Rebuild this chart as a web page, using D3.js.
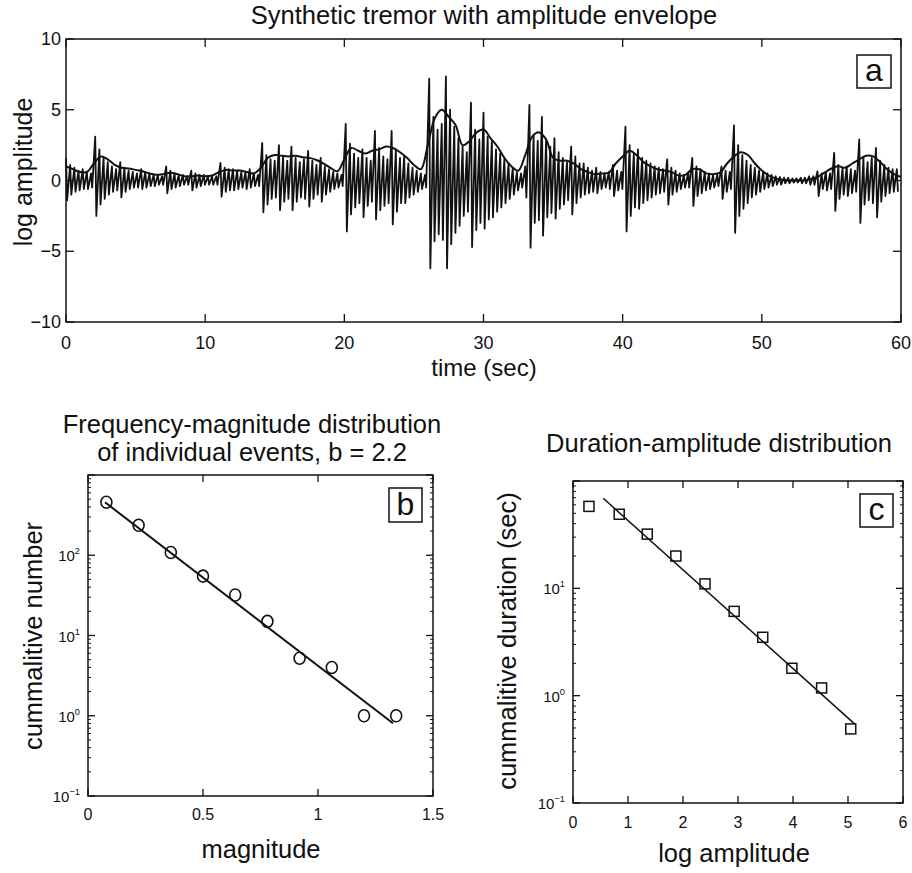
<!DOCTYPE html>
<html><head><meta charset="utf-8">
<script src="https://cdn.jsdelivr.net/npm/d3@7"></script>
<style>
body{margin:0;background:#fff}
text{font-family:"Liberation Sans",Arial,Helvetica,sans-serif;fill:#111}
</style>
</head><body>
<svg id="chart" width="912" height="873"></svg>
<script>
// ---------------- DATA ----------------
const waveStep = 0.3;
const waveUp = [
 1.6,1.1,0.9,0.7,0.8,0.6,0.5,3.1,2.2,1.6,
 1.3,1.0,0.8,1.3,0.9,0.7,0.6,0.5,0.8,0.6,
 0.5,0.4,0.4,0.3,1.0,0.7,0.5,0.4,0.4,0.3,
 0.7,0.5,0.4,0.4,0.3,0.3,0.3,1.25,0.9,0.8,
 0.8,0.7,0.6,0.6,0.8,0.5,0.4,2.65,1.8,1.5,
 1.4,2.5,1.7,1.4,2.4,1.6,1.3,1.5,2.1,1.4,
 1.1,1.6,1.0,0.8,0.6,0.5,0.4,4.0,2.6,1.9,
 1.6,2.2,1.6,1.4,3.5,2.3,1.7,1.5,3.5,2.2,
 1.6,1.7,1.2,0.9,0.7,0.5,0.4,7.2,4.5,3.6,
 4.0,7.35,5.0,3.8,3.0,2.4,2.0,5.5,3.6,2.9,
 4.8,3.1,2.8,2.2,1.9,1.5,1.2,0.9,0.6,0.5,
 1.0,5.35,3.2,2.8,4.5,2.9,2.4,3.0,2.0,1.6,
 1.3,2.4,1.7,1.2,1.2,0.9,0.7,0.9,0.6,0.5,
 0.6,1.1,0.7,0.6,3.8,2.5,1.9,2.2,1.6,1.4,
 1.2,1.0,0.9,0.8,1.5,0.9,0.7,0.5,0.4,0.5,
 1.6,1.0,0.8,0.6,0.5,0.4,0.4,1.0,0.7,0.6,
 3.9,2.5,1.8,1.4,1.1,0.9,0.7,0.6,0.5,0.4,
 0.3,0.25,0.2,0.2,0.15,0.15,0.2,0.2,0.3,0.3,
 0.65,0.5,0.6,0.5,1.95,1.1,0.9,1.0,0.8,0.7,
 2.9,1.6,1.3,1.6,2.3,1.4,1.1,0.9,0.8,0.8
];
const waveDown = [
 -1.4,-1.0,-0.8,-0.7,-0.6,-0.6,-0.5,-2.5,-1.7,-1.3,
 -1.0,-0.8,-0.7,-1.2,-0.8,-0.6,-0.5,-0.5,-0.6,-0.5,
 -0.4,-0.4,-0.3,-0.3,-0.9,-0.6,-0.5,-0.4,-0.3,-0.3,
 -0.7,-0.5,-0.4,-0.3,-0.3,-0.3,-0.3,-1.15,-0.8,-0.7,
 -0.7,-0.6,-0.5,-0.6,-0.5,-0.4,-0.4,-2.25,-1.7,-1.3,
 -1.2,-2.1,-1.5,-1.3,-2.1,-1.5,-1.2,-1.3,-1.85,-1.3,
 -1.0,-1.5,-1.0,-0.8,-0.6,-0.5,-0.4,-3.6,-2.4,-1.9,
 -1.6,-2.6,-1.8,-1.5,-2.75,-2.1,-1.8,-1.6,-3.1,-2.2,
 -1.6,-1.6,-1.2,-1.0,-0.8,-0.6,-0.5,-6.2,-4.3,-3.8,
 -4.2,-6.2,-4.5,-3.7,-3.2,-2.5,-2.2,-4.7,-3.5,-3.0,
 -3.4,-2.75,-2.6,-2.2,-1.9,-1.6,-1.3,-1.0,-0.7,-0.5,
 -1.2,-4.75,-3.0,-2.8,-3.9,-2.6,-2.3,-2.7,-2.0,-1.7,
 -1.4,-2.4,-1.6,-1.2,-1.0,-0.9,-0.8,-0.9,-0.6,-0.5,
 -0.6,-1.1,-0.7,-0.6,-3.6,-2.5,-1.9,-2.0,-1.6,-1.4,
 -1.2,-1.0,-0.9,-0.8,-1.7,-1.0,-0.8,-0.6,-0.5,-0.5,
 -1.8,-1.1,-0.9,-0.7,-0.6,-0.5,-0.4,-1.3,-0.8,-0.6,
 -3.7,-2.5,-2.0,-1.6,-1.2,-1.0,-0.8,-0.6,-0.5,-0.4,
 -0.3,-0.3,-0.2,-0.2,-0.15,-0.15,-0.2,-0.2,-0.3,-0.3,
 -1.1,-0.6,-0.7,-0.6,-2.15,-1.3,-1.0,-1.1,-0.9,-0.8,
 -3.0,-1.7,-1.4,-1.6,-2.6,-1.5,-1.1,-0.9,-0.8,-0.8
];
// amplitude envelope sampled every 0.5 s
const envStep = 0.5;
const envelope = [
 1.0,0.8,0.6,0.6,1.2,1.7,1.5,1.1,0.9,0.85,
 0.75,0.65,0.5,0.4,0.45,0.55,0.45,0.3,0.3,0.35,
 0.3,0.35,0.6,0.75,0.7,0.7,0.6,0.5,0.9,1.6,
 1.8,1.75,1.7,1.75,1.65,1.6,1.45,1.2,0.9,0.65,
 1.5,2.3,2.1,1.9,2.1,2.2,2.4,2.3,2.0,1.6,
 1.1,0.8,2.5,4.4,5.0,4.5,3.9,2.5,2.8,3.4,
 3.6,3.0,2.4,1.6,1.0,0.7,1.8,3.1,3.4,2.9,
 1.6,1.4,1.4,1.2,0.8,0.6,0.45,0.5,0.55,1.2,
 1.7,2.1,1.8,1.3,1.0,0.8,0.7,0.6,0.35,0.4,
 0.8,0.8,0.5,0.45,0.55,1.2,1.7,2.0,1.8,1.2,
 0.7,0.35,0.15,0.05,0.0,0.0,0.0,0.1,0.25,0.55,
 0.85,1.0,0.9,1.2,1.5,1.75,1.7,1.3,0.8,0.45,
 0.25
];
const aTicksX = [0,10,20,30,40,50,60];
const aTicksY = [-10,-5,0,5,10];

// Panel b: frequency-magnitude
const magnitude = [0.08,0.22,0.36,0.50,0.64,0.78,0.92,1.06,1.20,1.34];
const cumNumber = [457,236,108,55,32,15,5.2,4.0,1.0,1.0];
const fitBMag = [0.074,1.326];
const fitBNum = [457,0.805];
const bTicksX = [0,0.5,1,1.5];
const bTickLabelsX = ["0","0.5","1","1.5"];
const bDecadeLabels = [-1,0,1,2];

// Panel c: duration-amplitude
const logAmp = [0.29,0.84,1.35,1.87,2.40,2.93,3.45,3.98,4.52,5.05];
const cumDuration = [58,49,32,20,11,6.1,3.5,1.8,1.18,0.49];
const fitCAmp = [0.55,5.13];
const fitCDur = [69,0.54];
const cTicksX = [0,1,2,3,4,5,6];
const cDecadeLabels = [-1,0,1];

// ---------------- DRAW ----------------
const svg = d3.select("#chart");
const INK = "#111";

function frame(xs, ys){
  const x0=xs.range()[0], x1=xs.range()[1], y0=ys.range()[0], y1=ys.range()[1];
  svg.append("rect").attr("x",x0).attr("y",y1).attr("width",x1-x0).attr("height",y0-y1)
    .attr("fill","none").attr("stroke",INK).attr("stroke-width",1.5);
}
function xTicksIn(xs, ys, vals, len){
  const y0=ys.range()[0], y1=ys.range()[1];
  vals.forEach(v=>{
    const x=xs(v);
    svg.append("line").attr("x1",x).attr("x2",x).attr("y1",y0).attr("y2",y0-len).attr("stroke",INK).attr("stroke-width",1.3);
    svg.append("line").attr("x1",x).attr("x2",x).attr("y1",y1).attr("y2",y1+len).attr("stroke",INK).attr("stroke-width",1.3);
  });
}
function yTicksIn(xs, ys, vals, len, w){
  const x0=xs.range()[0], x1=xs.range()[1];
  vals.forEach(v=>{
    const y=ys(v);
    svg.append("line").attr("x1",x0).attr("x2",x0+len).attr("y1",y).attr("y2",y).attr("stroke",INK).attr("stroke-width",w||1.3);
    svg.append("line").attr("x1",x1).attr("x2",x1-len).attr("y1",y).attr("y2",y).attr("stroke",INK).attr("stroke-width",w||1.3);
  });
}
function label(x,y,txt,size,anchor,rot){
  const t=svg.append("text").attr("x",x).attr("y",y).attr("font-size",size)
    .attr("text-anchor",anchor||"middle").text(txt);
  if(rot) t.attr("transform",`rotate(${rot},${x},${y})`);
  return t;
}
function boxLabel(x,y,w,h,txt,size){
  svg.append("rect").attr("x",x).attr("y",y).attr("width",w).attr("height",h)
    .attr("fill","#fff").attr("stroke",INK).attr("stroke-width",1.5);
  label(x+w/2,y+h-7,txt,size);
}
function logLabels(xs, ys, decades, size){
  const x0=xs.range()[0];
  decades.forEach(k=>{
    const t=svg.append("text").attr("x",x0-8).attr("y",ys(Math.pow(10,k))+6)
      .attr("font-size",size).attr("text-anchor","end");
    t.append("tspan").text("10");
    t.append("tspan").attr("dy",-7).attr("font-size",size*0.62).text(String(k).replace("-","\u2212"));
  });
}
function minorLog(xs, ys){
  const [lo,hi]=ys.domain();
  const vals=[];
  for(let e=Math.round(Math.log10(lo)); e<Math.round(Math.log10(hi)); e++){
    for(let m=2;m<=9;m++) vals.push(m*Math.pow(10,e));
  }
  yTicksIn(xs, ys, vals, 3, 1);
}

// ----- Panel a -----
const ax = d3.scaleLinear().domain([0,60]).range([66,901]);
const ay = d3.scaleLinear().domain([-10,10]).range([322,39]);

const wavePts = [];
waveUp.forEach((u,i)=>{
  wavePts.push([i*waveStep, u]);
  wavePts.push([i*waveStep+0.08, waveDown[i]]);
});
const line = d3.line().x(d=>ax(d[0])).y(d=>ay(d[1]));
svg.append("path").datum(wavePts).attr("d",line).attr("fill","none")
  .attr("stroke",INK).attr("stroke-width",1.8).attr("stroke-linejoin","round");
const envPts = envelope.map((v,i)=>[i*envStep, v]);
svg.append("path").datum(envPts).attr("d",line.curve(d3.curveCatmullRom)).attr("fill","none")
  .attr("stroke",INK).attr("stroke-width",2);

frame(ax, ay);
xTicksIn(ax, ay, aTicksX, 8);
yTicksIn(ax, ay, aTicksY, 8);
aTicksX.forEach(v=>label(ax(v),349,String(v),18));
aTicksY.forEach(v=>label(61,ay(v)+6,String(v).replace("-","\u2212"),18,"end"));
label(484,24,"Synthetic tremor with amplitude envelope",25.5);
label(484,376,"time (sec)",24);
label(32,172,"log amplitude",25,"middle",-90);
boxLabel(857,55,34,33,"a",32);

// ----- Panel b -----
const bx = d3.scaleLinear().domain([0,1.5]).range([88,433]);
const by = d3.scaleLog().domain([0.1,1000]).range([796,475]);
frame(bx, by);
xTicksIn(bx, by, bTicksX, 7);
yTicksIn(bx, by, [0.1,1,10,100,1000], 7);
minorLog(bx, by);
bTicksX.forEach((v,i)=>label(bx(v),820,bTickLabelsX[i],16));
logLabels(bx, by, bDecadeLabels, 15);
svg.append("line").attr("x1",bx(fitBMag[0])).attr("y1",by(fitBNum[0]))
  .attr("x2",bx(fitBMag[1])).attr("y2",by(fitBNum[1])).attr("stroke",INK).attr("stroke-width",2);
svg.selectAll(".circ").data(magnitude).enter().append("ellipse")
  .attr("cx",(d)=>bx(d)).attr("cy",(d,i)=>by(cumNumber[i]))
  .attr("rx",5.5).attr("ry",6).attr("fill","none").attr("stroke",INK).attr("stroke-width",1.6);
label(252,433,"Frequency-magnitude distribution",25.5);
label(252,461,"of individual events, b = 2.2",25.5);
label(261,858,"magnitude",25.5);
label(42,636,"cummalitive number",25.5,"middle",-90);
boxLabel(389,488,33,34,"b",32);

// ----- Panel c -----
const cx = d3.scaleLinear().domain([0,6]).range([573,903]);
const cy = d3.scaleLog().domain([0.1,100]).range([803,481]);
frame(cx, cy);
xTicksIn(cx, cy, cTicksX, 7);
yTicksIn(cx, cy, [0.1,1,10,100], 7);
minorLog(cx, cy);
cTicksX.forEach(v=>label(cx(v),828,String(v),16));
logLabels(cx, cy, cDecadeLabels, 15);
svg.append("line").attr("x1",cx(fitCAmp[0])).attr("y1",cy(fitCDur[0]))
  .attr("x2",cx(fitCAmp[1])).attr("y2",cy(fitCDur[1])).attr("stroke",INK).attr("stroke-width",1.5);
svg.selectAll(".sq").data(logAmp).enter().append("rect")
  .attr("x",(d)=>cx(d)-5).attr("y",(d,i)=>cy(cumDuration[i])-5)
  .attr("width",10).attr("height",10).attr("fill","none").attr("stroke",INK).attr("stroke-width",1.5);
label(719,452,"Duration-amplitude distribution",25.5);
label(734,862,"log amplitude",25.5);
label(516,641,"cummalitive duration (sec)",25.5,"middle",-90);
boxLabel(860,494,33,33,"c",32);
</script>
</body></html>
